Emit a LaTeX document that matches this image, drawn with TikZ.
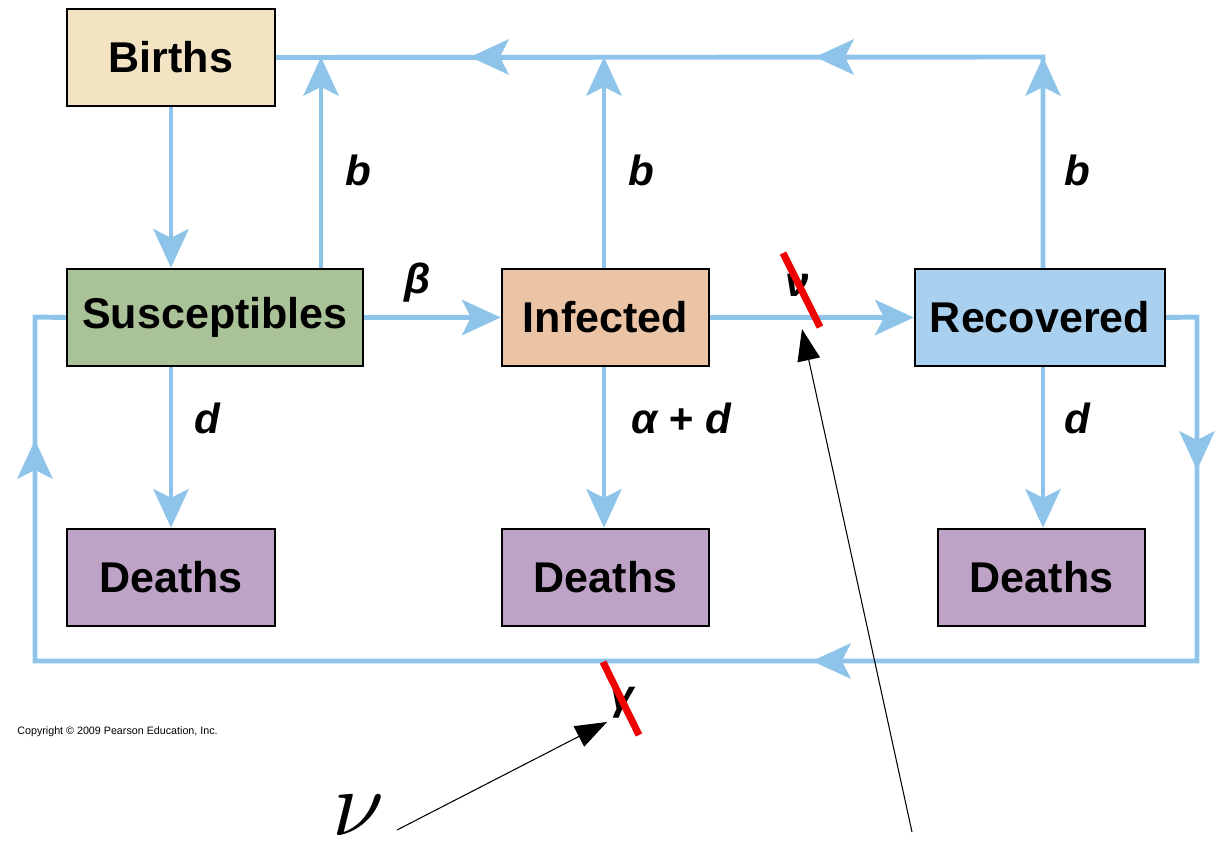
\documentclass[tikz,border=0pt]{standalone}
\usepackage{fontspec}
\setmainfont{Liberation Sans}
\usetikzlibrary{arrows.meta,calc}
\definecolor{flow}{HTML}{8EC4E9}
\definecolor{birthc}{HTML}{F3E3C3}
\definecolor{suscc}{HTML}{AAC297}
\definecolor{infc}{HTML}{EBC3A5}
\definecolor{recc}{HTML}{A9D0EF}
\definecolor{deathc}{HTML}{BFA3C7}
\definecolor{strike}{HTML}{F00000}
\tikzset{
  box/.style={draw=black, line width=1.4pt, minimum height=1.94cm, inner sep=0pt, font=\fontsize{24.5}{28}\selectfont\bfseries},
  flowline/.style={draw=flow, line width=2.8pt},
  flowtip/.style={flowline, -{Stealth[length=22pt, width=20pt, inset=5pt]}},
  rate/.style={font=\fontsize{24}{28}\selectfont\bfseries\itshape, inner sep=0pt},
  strikeline/.style={draw=strike, line width=4pt},
  pointer/.style={draw=black, line width=0.6pt, -{Triangle[length=18pt, width=13pt]}}
}
\begin{document}
\begin{tikzpicture}[x=0.02cm, y=-0.02cm]
\useasboundingbox (0,0) rectangle (1221,841);
\fill[white] (0,0) rectangle (1221,841);
% boxes
\node[box, fill=birthc, minimum width=4.16cm] (births) at (171,57.5) {Births};
\node[box, fill=suscc, minimum width=5.92cm] (sus) at (215,317.5) {Susceptibles};
\node[box, fill=infc, minimum width=4.14cm] (inf) at (605.5,317.5) {Infected};
\node[box, fill=recc, minimum width=5.0cm] (rec) at (1040,317.5) {Recovered};
\node[box, fill=deathc, minimum width=4.16cm] (d1) at (171,577.5) {Deaths};
\node[box, fill=deathc, minimum width=4.14cm] (d2) at (605.5,577.5) {Deaths};
\node[box, fill=deathc, minimum width=4.14cm] (d3) at (1041.5,577.5) {Deaths};
% coordinates
\coordinate (cR) at (1043,57);
\coordinate (mR) at (815,57);
\coordinate (mI) at (470,57);
\coordinate (tS) at (321,57);
\coordinate (tI) at (604,57);
\coordinate (o1) at (1197,317);
\coordinate (o2) at (1197,661);
\coordinate (o3) at (35,661);
\coordinate (o4) at (35,317);
\coordinate (aR) at (1197,470);
\coordinate (aB) at (812,661);
\coordinate (aL) at (35,440);
% top flows
\draw[flowtip] (births.south -| 171,0) -- (sus.north -| 171,0);
\draw[flowtip] (sus.north -| tS) -- (tS);
\draw[flowtip] (inf.north -| tI) -- (tI);
\draw[flowline, line join=miter] (rec.north -| cR) -- (cR) -- (births.east);
\draw[flowtip] ($(cR)+(0,50)$) -- (cR);
\draw[flowtip] ($(mR)+(30,0)$) -- (mR);
\draw[flowtip] ($(mI)+(30,0)$) -- (mI);
% horizontal
\draw[flowtip] (sus.east) -- (inf.west);
\draw[flowtip] (inf.east) -- (rec.west);
% down to deaths
\draw[flowtip] (sus.south -| 171,0) -- (d1.north -| 171,0);
\draw[flowtip] (inf.south -| 604,0) -- (d2.north -| 604,0);
\draw[flowtip] (rec.south -| 1043,0) -- (d3.north -| 1043,0);
% outer loop
\draw[flowline, line join=miter] (rec.east) -- (o1) -- (o2) -- (o3) -- (o4) -- (sus.west);
\draw[flowtip] ($(aR)+(0,-30)$) -- (aR);
\draw[flowtip] ($(aB)+(30,0)$) -- (aB);
\draw[flowtip] ($(aL)+(0,30)$) -- (aL);
% rate labels
\node[rate] (b1) at (358,170) {b};
\node[rate] (b2) at (641,170) {b};
\node[rate] (b3) at (1077,170) {b};
\node[rate] (beta) at (418,283) {β};
\node[rate] (dS) at (207,418) {d};
\node[rate] (ad) at (681,418) {α + d};
\node[rate] (dR) at (1077,418) {d};
\node[rate] (nuI) at (797,285) {ν};
\node[rate] (gam) at (622,703) {γ};
% strikes
\draw[strikeline] (783,253) -- (820,327);
\draw[strikeline] (603,662) -- (639,735);
% annotation
\node[inner sep=0pt, anchor=base] (nu) at (358,835) {\scalebox{5.3}{$\nu$}};
\coordinate (nuStart) at (397,830);
\coordinate (nuTip) at (607,722);
\coordinate (otherStart) at (912,832);
\coordinate (otherTip) at (802,329);
\draw[pointer] (nuStart) -- (nuTip);
\draw[pointer] (otherStart) -- (otherTip);
\node[font=\fontsize{6.1}{7}\selectfont, anchor=west, inner sep=0pt] (copy) at (17,732) {Copyright © 2009 Pearson Education, Inc.};
\end{tikzpicture}
\end{document}
